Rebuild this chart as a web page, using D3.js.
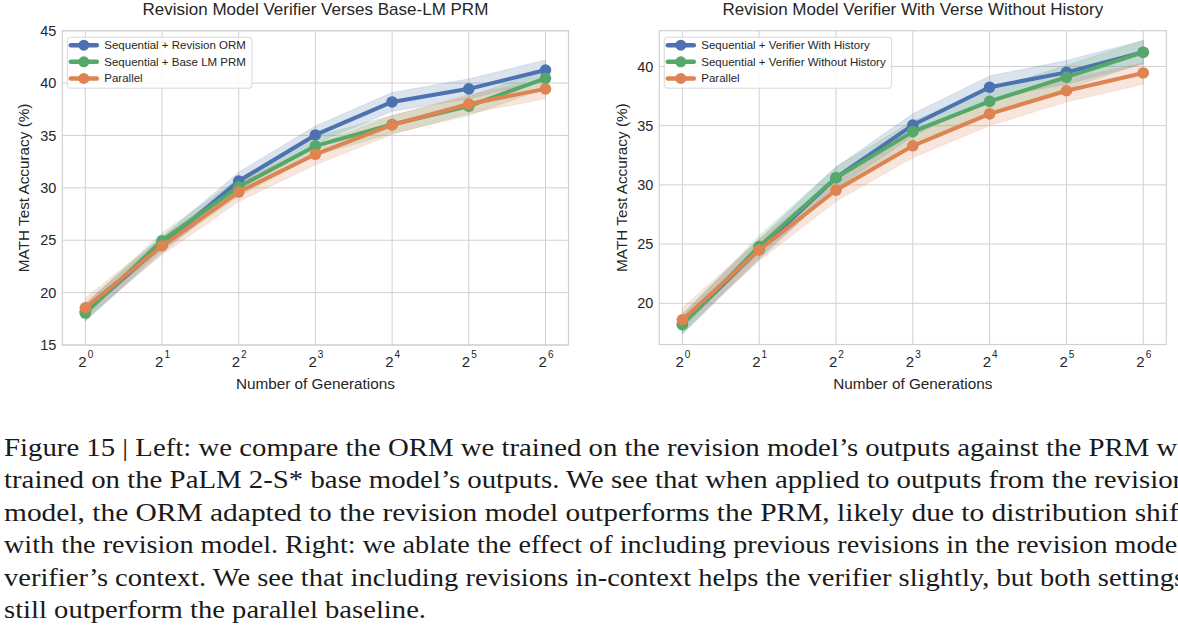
<!DOCTYPE html>
<html>
<head>
<meta charset="utf-8">
<script src="https://cdn.jsdelivr.net/npm/d3@7"></script>
<style>
  html, body { margin: 0; padding: 0; background: #ffffff; }
  svg { display: block; }
</style>
</head>
<body>
<svg id="chart" width="1178" height="625"></svg>
<script>
// ---------------- DATA ----------------
const generations = [1, 2, 4, 8, 16, 32, 64];
const xTickExponents = ["0", "1", "2", "3", "4", "5", "6"];

const leftTitle = "Revision Model Verifier Verses Base-LM PRM";
const leftSeriesNames = ["Sequential + Revision ORM", "Sequential + Base LM PRM", "Parallel"];
const leftRevisionORM = [18.2, 24.55, 30.65, 35.05, 38.2, 39.45, 41.25];
const leftRevisionORMLow = [17.3, 23.8, 29.8, 34.2, 37.3, 38.5, 40.3];
const leftRevisionORMHigh = [19.0, 25.3, 31.5, 35.9, 39.1, 40.4, 42.2];
const leftBasePRM = [18.05, 24.95, 30.1, 34.0, 36.05, 37.8, 40.45];
const leftBasePRMLow = [17.3, 24.1, 29.2, 33.1, 35.2, 36.9, 39.5];
const leftBasePRMHigh = [18.9, 25.7, 30.9, 34.9, 36.9, 38.7, 41.3];
const leftParallel = [18.55, 24.45, 29.6, 33.2, 36.0, 38.0, 39.45];
const leftParallelLow = [17.6, 23.6, 28.7, 32.2, 35.1, 37.1, 38.5];
const leftParallelHigh = [19.5, 25.3, 30.5, 34.1, 36.9, 38.9, 40.3];
const leftYTicks = [15, 20, 25, 30, 35, 40, 45];
const leftYDomain = [15, 45];

const rightTitle = "Revision Model Verifier With Verse Without History";
const rightSeriesNames = ["Sequential + Verifier With History", "Sequential + Verifier Without History", "Parallel"];
const rightWithHistory = [18.25, 24.55, 30.6, 35.05, 38.25, 39.5, 41.2];
const rightWithHistoryLow = [17.4, 23.7, 29.7, 34.1, 37.3, 38.5, 40.2];
const rightWithHistoryHigh = [19.1, 25.4, 31.5, 36.0, 39.2, 40.5, 42.2];
const rightWithoutHistory = [18.2, 24.8, 30.6, 34.5, 37.05, 39.1, 41.2];
const rightWithoutHistoryLow = [17.4, 23.9, 29.7, 33.6, 36.1, 38.1, 40.3];
const rightWithoutHistoryHigh = [19.0, 25.7, 31.5, 35.4, 38.0, 40.1, 42.2];
const rightParallel = [18.6, 24.5, 29.55, 33.3, 36.0, 37.95, 39.45];
const rightParallelLow = [17.7, 23.6, 28.6, 32.3, 35.0, 37.0, 38.5];
const rightParallelHigh = [19.6, 25.4, 30.5, 34.3, 36.9, 38.9, 40.3];
const rightYTicks = [20, 25, 30, 35, 40];
const rightYDomain = [16.52, 43.02];

const xLabel = "Number of Generations";
const yLabel = "MATH Test Accuracy (%)";

const captionLines = [
  "Figure 15 | Left: we compare the ORM we trained on the revision model\u2019s outputs against the PRM we",
  "trained on the PaLM 2-S* base model\u2019s outputs. We see that when applied to outputs from the revision",
  "model, the ORM adapted to the revision model outperforms the PRM, likely due to distribution shift",
  "with the revision model. Right: we ablate the effect of including previous revisions in the revision model",
  "verifier\u2019s context. We see that including revisions in-context helps the verifier slightly, but both settings",
  "still outperform the parallel baseline."
];

// ---------------- STYLE ----------------
const colors = ["#4c72b0", "#55a868", "#dd8452"];
const sans = "'Liberation Sans', Arial, 'DejaVu Sans', sans-serif";
const textColor = "#262626";
const gridColor = "#d0d0d0";

const svg = d3.select("#chart");

function drawPanel(cfg) {
  const g = svg.append("g");
  const x = d3.scaleLog().base(2)
    .domain([Math.pow(2, -0.3), Math.pow(2, 6.3)])
    .range([cfg.x0, cfg.x1]);
  const y = d3.scaleLinear().domain(cfg.yDomain).range([cfg.y1, cfg.y0]);

  // grid
  g.append("g").selectAll("line").data(generations).join("line")
    .attr("x1", d => x(d)).attr("x2", d => x(d))
    .attr("y1", cfg.y0).attr("y2", cfg.y1)
    .attr("stroke", gridColor).attr("stroke-width", 1);
  g.append("g").selectAll("line").data(cfg.yTicks).join("line")
    .attr("x1", cfg.x0).attr("x2", cfg.x1)
    .attr("y1", d => y(d)).attr("y2", d => y(d))
    .attr("stroke", gridColor).attr("stroke-width", 1);
  // frame
  g.append("rect").attr("x", cfg.x0).attr("y", cfg.y0)
    .attr("width", cfg.x1 - cfg.x0).attr("height", cfg.y1 - cfg.y0)
    .attr("fill", "none").attr("stroke", gridColor).attr("stroke-width", 1.2);

  // y axis labels
  const yAxis = g.append("g").attr("transform", `translate(${cfg.x0},0)`)
    .call(d3.axisLeft(y).tickValues(cfg.yTicks).tickSize(0).tickPadding(6).tickFormat(d3.format("d")));
  yAxis.select(".domain").remove();
  yAxis.selectAll("text").attr("font-family", sans).attr("font-size", 14.5).attr("fill", textColor);

  // x axis labels with superscripts
  const xAxis = g.append("g").attr("transform", `translate(0,${cfg.y1})`)
    .call(d3.axisBottom(x).tickValues(generations).tickSize(0).tickPadding(0).tickFormat(""));
  xAxis.select(".domain").remove();
  xAxis.selectAll(".tick text").each(function(d, i) {
    const t = d3.select(this);
    t.text(null).attr("y", 22).attr("dy", null).attr("x", 0)
      .attr("font-family", sans).attr("font-size", 15).attr("fill", textColor)
      .attr("text-anchor", "middle");
    t.append("tspan").text("2");
    t.append("tspan").attr("font-size", 10).attr("dy", -9).attr("dx", 1).text(xTickExponents[i]);
  });

  // axis titles
  g.append("text").attr("x", (cfg.x0 + cfg.x1) / 2).attr("y", 389)
    .attr("text-anchor", "middle").attr("font-family", sans).attr("font-size", 15.3)
    .attr("fill", textColor).text(xLabel);
  g.append("text")
    .attr("transform", `translate(${cfg.yLabelX},${(cfg.y0 + cfg.y1) / 2}) rotate(-90)`)
    .attr("text-anchor", "middle").attr("font-family", sans).attr("font-size", 15.3)
    .attr("fill", textColor).text(yLabel);

  // title
  g.append("text").attr("x", (cfg.x0 + cfg.x1) / 2).attr("y", 14.5)
    .attr("text-anchor", "middle").attr("font-family", sans).attr("font-size", 17)
    .attr("fill", textColor).text(cfg.title);

  // bands
  const area = d3.area().x((d, i) => x(generations[i])).y0(d => y(d[0])).y1(d => y(d[1]));
  cfg.series.forEach((s, k) => {
    const pts = s.low.map((lo, i) => [lo, s.high[i]]);
    g.append("path").datum(pts).attr("d", area)
      .attr("fill", colors[k]).attr("fill-opacity", 0.2).attr("stroke", colors[k])
      .attr("stroke-opacity", 0.15).attr("stroke-width", 1);
  });
  // lines + markers
  const line = d3.line().x((d, i) => x(generations[i])).y(d => y(d));
  cfg.series.forEach((s, k) => {
    g.append("path").datum(s.values).attr("d", line)
      .attr("fill", "none").attr("stroke", colors[k]).attr("stroke-width", 4)
      .attr("stroke-linejoin", "round");
    g.append("g").selectAll("circle").data(s.values).join("circle")
      .attr("cx", (d, i) => x(generations[i])).attr("cy", d => y(d))
      .attr("r", 5.8).attr("fill", colors[k]);
  });

  // legend
  const lg = g.append("g");
  const lx = cfg.x0 + 5, ly = cfg.y0 + 6.5;
  const box = lg.append("rect").attr("x", lx).attr("y", ly).attr("rx", 3).attr("ry", 3)
    .attr("height", 51).attr("fill", "#ffffff").attr("fill-opacity", 0.85)
    .attr("stroke", "#d8d8d8").attr("stroke-width", 1);
  let maxW = 0;
  cfg.series.forEach((s, k) => {
    const ry = ly + 8 + k * 16.6;
    lg.append("line").attr("x1", lx + 3.5).attr("x2", lx + 29.5).attr("y1", ry).attr("y2", ry)
      .attr("stroke", colors[k]).attr("stroke-width", 4.5).attr("stroke-linecap", "round");
    lg.append("circle").attr("cx", lx + 16.5).attr("cy", ry).attr("r", 5.5).attr("fill", colors[k]);
    const t = lg.append("text").attr("x", lx + 37).attr("y", ry).attr("dy", "0.35em")
      .attr("font-family", sans).attr("font-size", 11.5).attr("fill", textColor).text(s.name);
    maxW = Math.max(maxW, t.node().getComputedTextLength());
  });
  box.attr("width", 37 + maxW + 6);
}

drawPanel({
  title: leftTitle, x0: 62.3, x1: 568.5, y0: 30.7, y1: 345,
  yDomain: leftYDomain, yTicks: leftYTicks, yLabelX: 29,
  series: [
    { name: leftSeriesNames[0], values: leftRevisionORM, low: leftRevisionORMLow, high: leftRevisionORMHigh },
    { name: leftSeriesNames[1], values: leftBasePRM, low: leftBasePRMLow, high: leftBasePRMHigh },
    { name: leftSeriesNames[2], values: leftParallel, low: leftParallelLow, high: leftParallelHigh }
  ]
});

drawPanel({
  title: rightTitle, x0: 659.3, x1: 1166.3, y0: 30.7, y1: 344.5,
  yDomain: rightYDomain, yTicks: rightYTicks, yLabelX: 627,
  series: [
    { name: rightSeriesNames[0], values: rightWithHistory, low: rightWithHistoryLow, high: rightWithHistoryHigh },
    { name: rightSeriesNames[1], values: rightWithoutHistory, low: rightWithoutHistoryLow, high: rightWithoutHistoryHigh },
    { name: rightSeriesNames[2], values: rightParallel, low: rightParallelLow, high: rightParallelHigh }
  ]
});

// caption
const captionWidths = [1186, 1183, 1183, 1181, 1181, 422];
const cap = svg.append("g");
captionLines.forEach((ln, i) => {
  cap.append("text").attr("x", 4).attr("y", 456 + i * 32.4)
    .attr("font-family", "'Liberation Serif', 'Times New Roman', serif").attr("font-size", 25)
    .attr("fill", "#1a1a1a")
    .attr("textLength", captionWidths[i]).attr("lengthAdjust", "spacingAndGlyphs")
    .text(ln);
});
</script>
</body>
</html>
